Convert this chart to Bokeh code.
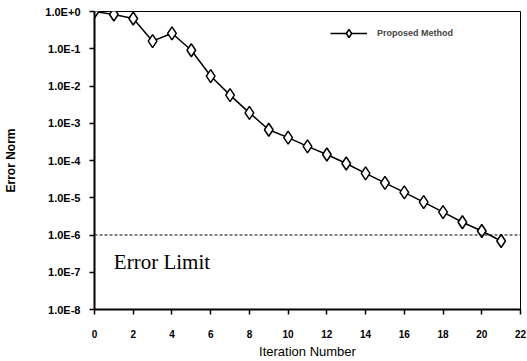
from bokeh.plotting import figure
from bokeh.models import FixedTicker, Span, Label, Legend, LegendItem
from bokeh.embed import file_html
from bokeh.resources import INLINE

iterations = list(range(22))
error_norm = [1.0, 0.83, 0.65, 0.16, 0.26, 0.091, 0.0185, 0.0057, 0.0019,
              6.7e-4, 4.1e-4, 2.4e-4, 1.45e-4, 8.3e-5, 4.5e-5, 2.5e-5,
              1.4e-5, 7.6e-6, 4.1e-6, 2.2e-6, 1.28e-6, 6.9e-7]
error_limit = 1e-6
x_ticks = list(range(0, 23, 2))
y_ticks = [10.0 ** (-k) for k in range(0, 9)]
y_tick_labels = ["1.0E+0"] + ["1.0E-%d" % k for k in range(1, 9)]

p = figure(width=527, height=361, output_backend="svg", toolbar_location=None,
           y_axis_type="log", x_range=(0, 22), y_range=(1e-8, 1.0))
p.min_border_left = 94
p.min_border_right = 7
p.min_border_top = 11
p.min_border_bottom = 51
p.background_fill_color = "white"
p.border_fill_color = "white"
p.outline_line_color = "black"
p.outline_line_width = 1
p.grid.visible = False

p.xaxis.ticker = FixedTicker(ticks=x_ticks)
p.yaxis.ticker = FixedTicker(ticks=y_ticks)
p.yaxis.major_label_overrides = {t: l for t, l in zip(y_ticks, y_tick_labels)}
for ax in (p.xaxis[0], p.yaxis[0]):
    ax.axis_line_color = "black"
    ax.axis_line_width = 2
    ax.major_tick_line_color = "black"
    ax.major_tick_line_width = 1.5
    ax.major_tick_in = 0
    ax.major_tick_out = 5
    ax.minor_tick_line_color = None
    ax.major_label_text_font = "Liberation Sans"
    ax.major_label_text_font_style = "bold"
    ax.major_label_text_font_size = "11px"
    ax.major_label_text_color = "black"
    ax.axis_label_text_font = "Liberation Sans"
    ax.axis_label_text_font_style = "bold"
    ax.axis_label_text_color = "black"

p.xaxis.major_label_text_font_size = "10px"
p.xaxis.major_label_standoff = 15
p.yaxis.major_label_standoff = 9
p.xaxis.axis_label = "Iteration Number"
p.xaxis.axis_label_text_font_size = "13px"
p.xaxis.axis_label_text_font_style = "normal"
p.xaxis.axis_label_standoff = 3
p.yaxis.axis_label = "Error Norm"
p.yaxis.axis_label_text_font_size = "12px"
p.yaxis.axis_label_standoff = 24

span = Span(location=error_limit, dimension="width", line_color="black",
            line_width=1, line_dash="3 2")
p.add_layout(span)

r_line = p.line(iterations, error_norm, line_color="black", line_width=1.5)
r_pts = p.scatter(iterations, error_norm, marker="diamond", size=13,
                  fill_color="white", line_color="black", line_width=1.5)

lbl = Label(x=1.0, y=10 ** -6.72, text="Error Limit",
            text_font="Liberation Serif", text_font_size="21px",
            text_color="black", text_baseline="alphabetic")
p.add_layout(lbl)

legend = Legend(items=[LegendItem(label="Proposed Method", renderers=[r_line, r_pts])],
                location=(236, 266), border_line_color=None,
                background_fill_alpha=0, padding=0, margin=0,
                glyph_width=37, glyph_height=20,
                label_text_font="Liberation Sans", label_text_font_style="bold",
                label_text_font_size="9px", label_standoff=10)
p.add_layout(legend)

open("out.html", "w").write(file_html(p, INLINE))
